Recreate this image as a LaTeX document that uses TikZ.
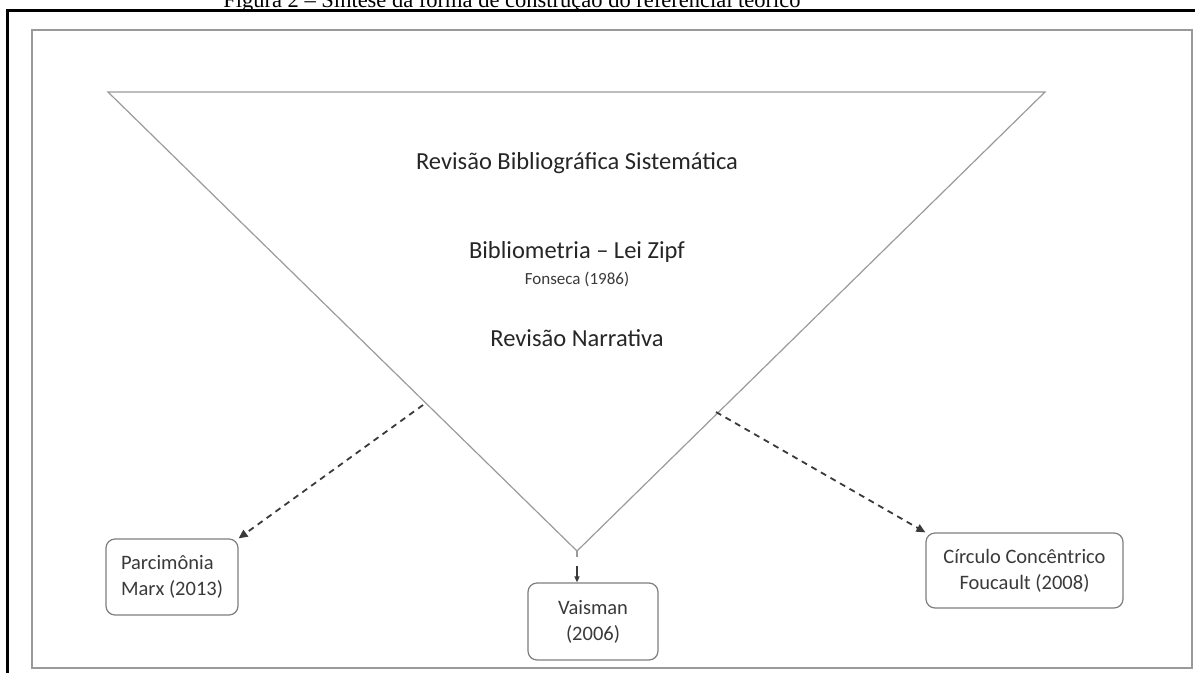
\documentclass[tikz,border=0pt]{standalone}
\usepackage{fontspec}
\setmainfont{Carlito}
\newfontfamily\captionfont{Liberation Serif}
\usetikzlibrary{arrows.meta}
\definecolor{ink}{HTML}{262626}
\definecolor{softink}{HTML}{3A3A3A}
\definecolor{rim}{HTML}{9A9A9A}
\definecolor{cardrim}{HTML}{7E7E7E}
\begin{document}
\begin{tikzpicture}[x=1pt,y=-1pt,
  frameline/.style={draw=black, line width=2.2pt},
  panel/.style={draw=rim, line width=1.6pt},
  funnel/.style={draw=rim, line width=1.2pt, line join=miter},
  title/.style={text=ink, font=\fontsize{24.5}{29}\selectfont, inner sep=0pt},
  subtitle/.style={text=softink, font=\fontsize{17}{20}\selectfont, inner sep=0pt},
  card/.style={draw=cardrim, line width=1.2pt, rounded corners=9pt, fill=white,
    text=softink, font=\fontsize{20.5}{26}\selectfont, inner sep=0pt},
  dasharrow/.style={draw=softink, line width=1.8pt, dash pattern=on 6pt off 5pt,
    -{Triangle[length=9pt,width=8pt]}},
  droparrow/.style={draw=softink, line width=1.3pt, -{Triangle[length=6pt,width=5pt]}}
]
\useasboundingbox (0,0) rectangle (1195,673);
\clip (0,0) rectangle (1195,673);

% caption above the frame (only its lower part lies on the page)
\node[anchor=base, inner sep=0pt, text=black, font=\captionfont\fontsize{22.5}{26}\selectfont]
  (caption) at (512,7) {Figura 2 – Síntese da forma de construção do referencial teórico};

% outer frame and inner panel
\draw[frameline] (7.5,673) -- (7.5,10.5) -- (1195,10.5);
\draw[panel] (32,30) rectangle (1192,668);

% inverted triangle (funnel)
\coordinate (tl) at (108,92);
\coordinate (tr) at (1045,92);
\coordinate (apex) at (577,551);
\draw[funnel] (tl) -- (tr) -- (apex) -- cycle;
\coordinate (stub) at (577,557);
\draw[funnel] (apex) -- (stub);

% texts inside the funnel
\node[title] (sys) at (577,163) {Revisão Bibliográfica Sistemática};
\node[title] (bib) at (577,252) {Bibliometria – Lei Zipf};
\node[subtitle] (fon) at (577,279) {Fonseca (1986)};
\node[title] (nar) at (577,338) {Revisão Narrativa};

% result boxes
\node[card, minimum width=132pt, minimum height=76pt, align=left] (parc) at (172,577)
  {Parcimônia\\Marx (2013)};
\node[card, minimum width=130pt, minimum height=77pt, align=center] (vais) at (593,621.5)
  {Vaisman\\(2006)};
\node[card, minimum width=197pt, minimum height=75pt, align=center] (circ) at (1024.5,570.5)
  {Círculo Concêntrico\\Foucault (2008)};

% connectors
\coordinate (lout) at (423,405);
\coordinate (rout) at (716,412);
\coordinate (drop) at (577,566);
\draw[dasharrow] (lout) -- (parc.north east);
\draw[dasharrow] (rout) -- (circ.north west);
\draw[droparrow] (drop) -- (drop |- vais.north);
\end{tikzpicture}
\end{document}
